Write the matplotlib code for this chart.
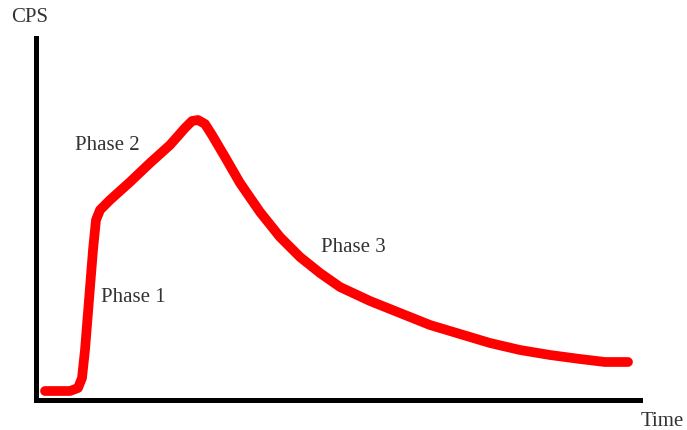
import matplotlib.pyplot as plt

# 곡선 데이터 (시간, CPS) - 그림에서 읽은 값
time = [9, 34, 42, 46, 49, 53, 57, 60, 64, 74, 94, 114, 134, 149, 156, 162,
        169, 176, 189, 204, 224, 244, 264, 284, 304, 334, 364, 394, 424, 454,
        484, 514, 544, 569, 592]
cps = [9, 9, 12, 22, 50, 100, 150, 180, 190, 200, 218, 237, 255, 272, 279,
       280, 276, 265, 243, 217, 188, 163, 143, 127, 113, 99, 87, 75, 66, 57,
       50, 45, 41, 38, 38]

labels = ['Phase 1', 'Phase 2', 'Phase 3']
label_x = [97, 71, 317]
label_y = [102, 254, 153]

fig = plt.figure(figsize=(6.87, 4.30), dpi=100)
ax = fig.add_axes([36 / 687, 30 / 430, 604 / 687, 362 / 430])

ax.plot(time, cps, color='#ff0000', linewidth=7, solid_capstyle='round',
        solid_joinstyle='round')

for t, x, y in zip(labels, label_x, label_y):
    ax.text(x, y, t, fontsize=15, family='Liberation Serif', color='#333333',
            ha='center', va='center')

ax.text(-6, 382, 'CPS', fontsize=15, family='Liberation Serif', color='#333333',
        ha='center', va='center', clip_on=False)
ax.text(626, -22, 'Time', fontsize=15, family='Liberation Serif', color='#333333',
        ha='center', va='center', clip_on=False)

ax.set_xlim(0, 604)
ax.set_ylim(0, 362)
ax.spines['top'].set_visible(False)
ax.spines['right'].set_visible(False)
ax.spines['left'].set_linewidth(3.6)
ax.spines['bottom'].set_linewidth(3.6)
ax.set_xticks([])
ax.set_yticks([])

fig.savefig('out.png', dpi=100)
